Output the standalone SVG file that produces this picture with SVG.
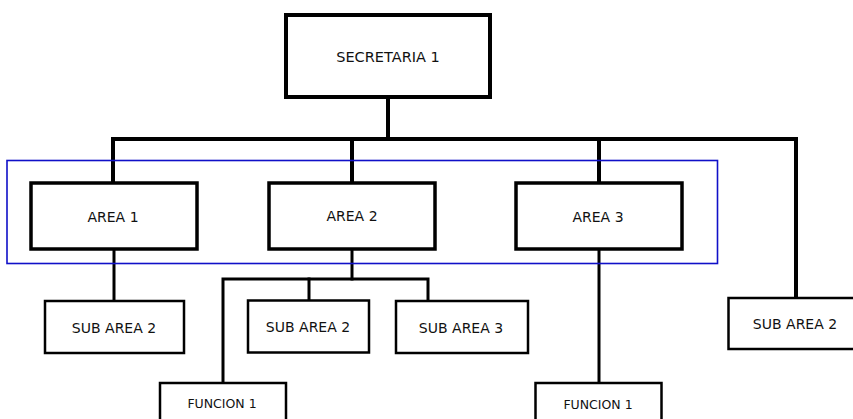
<svg xmlns="http://www.w3.org/2000/svg" width="853" height="419" viewBox="0 0 853 419">
<style>
  .box { fill: #ffffff; stroke: #000000; }
  .main { stroke-width: 4; }
  .area { stroke-width: 3.5; }
  .sub { stroke-width: 2.5; }
  .lbl { font-family: "DejaVu Sans", Verdana, sans-serif; font-size: 14px; fill: #111111; text-anchor: middle; }
  .small { font-size: 12.5px; }
  .conn { fill: none; stroke: #000000; stroke-linejoin: miter; stroke-linecap: square; }
  .thick { stroke-width: 4; }
  .mid { stroke-width: 3; }
</style>
<rect width="853" height="419" fill="#ffffff"/>
<g id="connectors">
  <path class="conn thick" d="M388,98 V139"/>
  <path class="conn thick" d="M113,183 V139 H796 V298"/>
  <path class="conn thick" d="M352,139 V183"/>
  <path class="conn thick" d="M599,139 V183"/>
  <path class="conn mid" d="M114,250 V301"/>
  <path class="conn mid" d="M352,250 V279"/>
  <path class="conn mid" d="M223,383 V279 H428 V301"/>
  <path class="conn mid" d="M309,279 V300"/>
  <path class="conn mid" d="M599,250 V383"/>
</g>
<g id="secretaria1">
  <rect class="box main" x="286" y="15" width="204" height="82"/>
  <text class="lbl" x="388" y="62" style="font-size:14.5px">SECRETARIA 1</text>
</g>
<g id="area1">
  <rect class="box area" x="31" y="183" width="166" height="66"/>
  <text class="lbl" x="113" y="222">AREA 1</text>
</g>
<g id="area2">
  <rect class="box area" x="269" y="183" width="166" height="66"/>
  <text class="lbl" x="352" y="221">AREA 2</text>
</g>
<g id="area3">
  <rect class="box area" x="516" y="183" width="166" height="66"/>
  <text class="lbl" x="598" y="222">AREA 3</text>
</g>
<g id="subarea2-left">
  <rect class="box sub" x="45" y="301" width="139" height="52"/>
  <text class="lbl" x="114" y="333">SUB AREA 2</text>
</g>
<g id="subarea2-mid">
  <rect class="box sub" x="248" y="300.5" width="121" height="52"/>
  <text class="lbl" x="308" y="332">SUB AREA 2</text>
</g>
<g id="subarea3">
  <rect class="box sub" x="396" y="301" width="132" height="52"/>
  <text class="lbl" x="461" y="333">SUB AREA 3</text>
</g>
<g id="subarea2-right">
  <rect class="box sub" x="728.5" y="298" width="140" height="51"/>
  <text class="lbl" x="795" y="329">SUB AREA 2</text>
</g>
<g id="funcion1-left">
  <rect class="box sub" x="160" y="383" width="126" height="50"/>
  <text class="lbl small" x="222" y="408">FUNCION 1</text>
</g>
<g id="funcion1-right">
  <rect class="box sub" x="535.5" y="383" width="126" height="50"/>
  <text class="lbl small" x="598" y="409">FUNCION 1</text>
</g>
<g id="areas-group">
  <rect x="7" y="160.5" width="710.5" height="103" fill="none" stroke="#1010c8" stroke-width="1.6"/>
</g>
</svg>
